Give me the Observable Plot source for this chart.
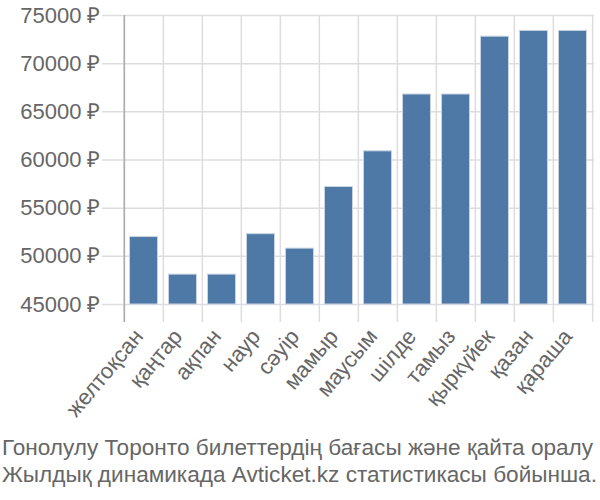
<!DOCTYPE html>
<html>
<head>
<meta charset="utf-8">
<script src="https://cdn.jsdelivr.net/npm/d3@7"></script>
<script src="https://cdn.jsdelivr.net/npm/@observablehq/plot@0.6"></script>
<style>
  html, body { margin: 0; padding: 0; background: #fff; }
  #chart { width: 600px; height: 432px; }
  #chart svg text { font-size: 22px; }
  .caption { font-family: "Liberation Sans", Arial, sans-serif; font-size: 22.6px; line-height: 27px; color: #666; white-space: nowrap; padding-left: 2px; margin-top: 2px; }
</style>
</head>
<body>
<div id="chart"></div>
<div class="caption">Гонолулу Торонто билеттердің бағасы және қайта оралу<br>Жылдық динамикада Avticket.kz статистикасы бойынша.</div>
<script>
const months = ["желтоқсан","қаңтар","ақпан","наур","сәуір","мамыр","маусым","шілде","тамыз","қыркүйек","қазан","қараша"];
const prices = [52000, 48100, 48100, 52300, 50800, 57200, 60900, 66800, 66800, 72800, 73400, 73400];
const yTicks = [45000, 50000, 55000, 60000, 65000, 70000, 75000];
const yMin = 45000, yMax = 75000;
const data = months.map((m, i) => ({month: m, price: prices[i]}));

const W = 600, H = 432, ML = 122, MR = 6, MT = 15, MB = 128;
const step = (W - ML - MR) / months.length;

const chart = Plot.plot({
  width: W, height: H,
  marginLeft: ML, marginRight: MR, marginTop: MT, marginBottom: MB,
  style: {fontFamily: "'Liberation Sans', Arial, sans-serif", color: "#666", background: "#fff", fontSize: "22px"},
  x: {type: "band", domain: months, padding: 0, label: null},
  y: {domain: [yMin, yMax], label: null},
  marks: [
    Plot.ruleY(yTicks, {y: d => d, stroke: "#ddd", strokeWidth: 1.5, insetLeft: -20}),
    Plot.ruleX(months, {x: d => d, dx: -step / 2, stroke: "#ddd", strokeWidth: 1.5, insetBottom: -18}),
    Plot.ruleX(months.slice(-1), {x: d => d, dx: step / 2, stroke: "#ddd", strokeWidth: 1.5, insetBottom: -18}),
    Plot.barY(data, {x: "month", y1: yMin, y2: "price", fill: "#4e79a7", stroke: "#c8d4e3", strokeWidth: 1, insetLeft: 5.5, insetRight: 5.5}),
    Plot.ruleX([months[0]], {x: d => d, dx: -step / 2, stroke: "#aaa", strokeWidth: 1.5, insetBottom: -18}),
    Plot.axisY({ticks: yTicks, tickSize: 0, tickPadding: 22, tickFormat: d => d + " ₽", fill: "#666", label: null}),
    Plot.axisX({tickSize: 0, tickRotate: -50, tickPadding: 28, dx: -5, fill: "#666", label: null})
  ]
});
document.getElementById("chart").appendChild(chart);
</script>
</body>
</html>
